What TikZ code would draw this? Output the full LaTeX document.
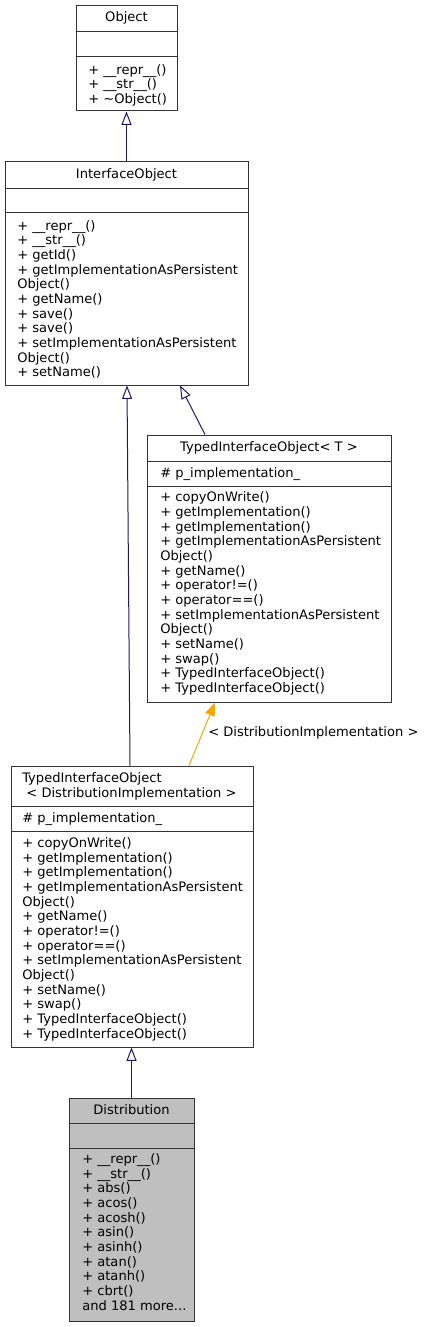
\documentclass[tikz,border=0pt]{standalone}
\usepackage{fontspec}
\setmainfont{DejaVu Sans}
\usetikzlibrary{arrows.meta}

\definecolor{edgeBlue}{HTML}{191970}
\definecolor{tmplOrange}{HTML}{FFA500}
\definecolor{mainGray}{HTML}{BFBFBF}

\begin{document}
\begin{tikzpicture}[x=0.75pt,y=-0.75pt,
        classBox/.style = {draw=black!80,line width=0.75pt,fill=white,inner sep=0pt},
        mainBox/.style = {classBox,fill=mainGray}, % the class the diagram is about
        divLine/.style = {draw=black!80,line width=0.75pt},
        titleText/.style = {font=\fontsize{9.8}{11}\selectfont,inner sep=0pt,anchor=base},
        memberText/.style = {font=\fontsize{9.8}{11}\selectfont,inner sep=0pt,anchor=north west,align=left},
        inheritEdge/.style = {draw=edgeBlue,line width=0.75pt,-{Triangle[open,length=10pt,width=7.5pt]}},
        templateEdge/.style = {draw=tmplOrange,line width=0.75pt,-{Triangle[length=10pt,width=7.5pt,fill=tmplOrange]}} % template instance
        ]
        \path[use as bounding box,fill=white] (0,0) rectangle (424,1327);

        \node[classBox,minimum width=75.75pt,minimum height=78.75pt] (object) at (126.5,58.5) {};
        \draw[divLine] (object.west |- 0,32) -- (object.east |- 0,32);
        \draw[divLine] (object.west |- 0,57) -- (object.east |- 0,57);
        \node[titleText] (objectTitle) at (126.5,22) {Object};
        \node[memberText] (objectOps) at (88,63.7) {\strut+ \_\_repr\_\_()\\+ \_\_str\_\_()\\+ \textasciitilde Object()};

        \node[classBox,minimum width=182.25pt,minimum height=167.25pt] (interfaceObject) at (126.5,273.5) {};
        \draw[divLine] (interfaceObject.west |- 0,188) -- (interfaceObject.east |- 0,188);
        \draw[divLine] (interfaceObject.west |- 0,212) -- (interfaceObject.east |- 0,212);
        \node[titleText] (interfaceObjectTitle) at (126.5,178.3) {InterfaceObject};
        \node[memberText] (interfaceObjectOps) at (17,219.7) {\strut+ \_\_repr\_\_()\\+ \_\_str\_\_()\\+ getId()\\+ getImplementationAsPersistent\\Object()\\+ getName()\\+ save()\\+ save()\\+ setImplementationAsPersistent\\Object()\\+ setName()};

        \node[classBox,minimum width=183pt,minimum height=200.25pt] (typedT) at (269,568.5) {};
        \draw[divLine] (typedT.west |- 0,461) -- (typedT.east |- 0,461);
        \draw[divLine] (typedT.west |- 0,486) -- (typedT.east |- 0,486);
        \node[titleText] (typedTTitle) at (269,451) {TypedInterfaceObject< T >};
        \node[memberText] (typedTAttr) at (160,467) {\strut\# p\_implementation\_};
        \node[memberText] (typedTOps) at (160,491.4) {\strut+ copyOnWrite()\\+ getImplementation()\\+ getImplementation()\\+ getImplementationAsPersistent\\Object()\\+ getName()\\+ operator!=()\\+ operator==()\\+ setImplementationAsPersistent\\Object()\\+ setName()\\+ swap()\\+ TypedInterfaceObject()\\+ TypedInterfaceObject()};

        \node[classBox,minimum width=181.5pt,minimum height=210.75pt] (typedDI) at (132,906.5) {};
        \draw[divLine] (typedDI.west |- 0,806) -- (typedDI.east |- 0,806);
        \draw[divLine] (typedDI.west |- 0,831) -- (typedDI.east |- 0,831);
        \node[memberText] (typedDITitle) at (22,771.7) {\strut TypedInterfaceObject\\[0.25pt]\ < DistributionImplementation >};
        \node[memberText] (typedDIAttr) at (22,811.7) {\strut\# p\_implementation\_};
        \node[memberText] (typedDIOps) at (22,837) {\strut+ copyOnWrite()\\+ getImplementation()\\+ getImplementation()\\+ getImplementationAsPersistent\\Object()\\+ getName()\\+ operator!=()\\+ operator==()\\+ setImplementationAsPersistent\\Object()\\+ setName()\\+ swap()\\+ TypedInterfaceObject()\\+ TypedInterfaceObject()};

        \node[mainBox,minimum width=93.75pt,minimum height=167.25pt] (distribution) at (131.5,1209.5) {};
        \draw[divLine] (distribution.west |- 0,1123) -- (distribution.east |- 0,1123);
        \draw[divLine] (distribution.west |- 0,1148) -- (distribution.east |- 0,1148);
        \node[titleText] (distributionTitle) at (131.5,1114) {Distribution};
        \node[memberText] (distributionOps) at (82,1153) {\strut+ \_\_repr\_\_()\\+ \_\_str\_\_()\\+ abs()\\+ acos()\\+ acosh()\\+ asin()\\+ asinh()\\+ atan()\\+ atanh()\\+ cbrt()\\and 181 more...};

        \draw[inheritEdge] (interfaceObject.north) -- (object.south);
        \draw[inheritEdge] (typedDI.north -| 130,0) -- (interfaceObject.south -| 127,0);
        \draw[inheritEdge] (typedT.north -| 205,0) -- (interfaceObject.south -| 180,0);
        \draw[templateEdge] (typedDI.north -| 189,0) -- (typedT.south -| 215,0);
        \node[titleText,anchor=base west] (tmplLabel) at (208,736.7) {< DistributionImplementation >};
        \draw[inheritEdge] (distribution.north) -- (typedDI.south -| 131.5,0);
    \end{tikzpicture}
\end{document}
